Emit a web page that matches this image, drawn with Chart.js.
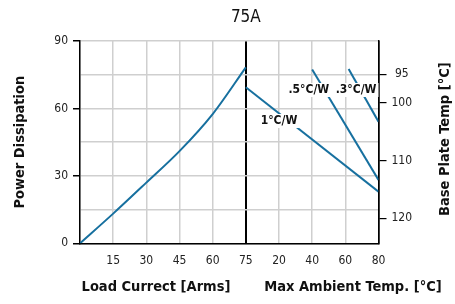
<html>
<head></head>
<body style="margin:0">
<script src="https://cdn.jsdelivr.net/npm/chart.js@4.4.1/dist/chart.umd.min.js"></script>
<div style="width:455px;height:304px"><canvas id="myChart" width="455" height="304"></canvas></div>
<script>
// left panel: power vs load current
const current = [0, 15, 30, 45, 60, 75];
const power = [0, 13.2, 27, 41, 57.5, 78.3];
// right panel: derating lines vs ambient temp
const ambient1 = [0, 80];
const power1 = [69.4, 23];
const ambient05 = [40, 80];
const power05 = [77.3, 28.2];
const ambient03 = [62, 80];
const power03 = [77.5, 54.1];
const lineLabels = ['1°C/W', '.5°C/W', '.3°C/W'];
const labelAt = [[20, 54.4], [38, 68.2], [66.5, 68.2]]; // ambient, power
const plateTicks = [95, 100, 110, 120];

const FONT = "'Liberation Sans Narrow', 'DejaVu Sans Condensed', sans-serif";
const BLUE = '#17709f';
// the right panel starts where the 75A gridline is, 20 degC per 15A division
const amb = t => 75 + t * 0.75;
const pts = (xs, ys, f) => xs.map((v, i) => ({x: f(v), y: ys[i]}));

const texts = {
  id: 'texts',
  afterDatasetsDraw(chart) {
    const c = chart.ctx, a = chart.chartArea, sx = chart.scales.x, sy = chart.scales.y;
    c.save();
    c.fillStyle = '#111';
    c.textAlign = 'center';
    c.textBaseline = 'middle';
    c.font = 'bold 12px ' + FONT;
    lineLabels.forEach((t, i) => {
      const x = sx.getPixelForValue(amb(labelAt[i][0]));
      const y = sy.getPixelForValue(labelAt[i][1]);
      const w = c.measureText(t).width;
      c.fillStyle = '#fff';
      c.fillRect(x - w / 2 - 2, y - 7, w + 4, 14);
      c.fillStyle = '#111';
      c.fillText(t, x, y);
    });
    c.font = '17px ' + FONT;
    c.fillText('75A', sx.getPixelForValue(75), 18);
    c.font = 'bold 14.5px ' + FONT;
    c.fillText('Load Currect [Arms]', 156, 287);
    c.fillText('Max Ambient Temp. [°C]', 353, 287);
    c.translate(20, (a.top + a.bottom) / 2);
    c.rotate(-Math.PI / 2);
    c.fillText('Power Dissipation', 0, 0);
    c.restore();
    c.save();
    c.fillStyle = '#111';
    c.textAlign = 'center';
    c.textBaseline = 'middle';
    c.font = 'bold 14.5px ' + FONT;
    c.translate(445, (a.top + a.bottom) / 2 - 3);
    c.rotate(-Math.PI / 2);
    c.fillText('Base Plate Temp [°C]', 0, 0);
    c.restore();
  }
};

const ctx = document.getElementById('myChart').getContext('2d');
const myChart = new Chart(ctx, {
  type: 'line',
  data: {
    datasets: [
      {data: pts(current, power, v => v), cubicInterpolationMode: 'monotone'},
      {data: pts(ambient1, power1, amb)},
      {data: pts(ambient05, power05, amb)},
      {data: pts(ambient03, power03, amb)}
    ].map(d => Object.assign({borderColor: BLUE, borderWidth: 2, pointRadius: 0, fill: false}, d))
  },
  options: {
    responsive: false,
    animation: false,
    layout: {padding: {top: 41}},
    plugins: {legend: {display: false}, tooltip: {enabled: false}},
    scales: {
      x: {
        type: 'linear', min: 0, max: 135,
        afterFit: s => { s.height = 60.7; },
        afterBuildTicks: s => { s.ticks = [0, 15, 30, 45, 60, 75, 90, 105, 120, 135].map(v => ({value: v})); },
        ticks: {
          padding: 10, color: '#222', font: {family: FONT, size: 12},
          callback: v => v == 0 ? '' : (v <= 75 ? v : Math.round((v - 75) / 0.75))
        },
        grid: {
          drawTicks: false,
          color: c => (c.tick && (c.tick.value == 75 || c.tick.value == 135)) ? '#000' : '#cfcfcf',
          lineWidth: c => (c.tick && c.tick.value == 75) ? 2 : 1.5
        },
        border: {color: '#000', width: 1.5}
      },
      y: {
        min: 0, max: 90,
        afterFit: s => { s.width = 80; },
        ticks: {
          stepSize: 15, padding: 5, color: '#222', font: {family: FONT, size: 12},
          callback: v => v % 30 == 0 ? v : ''
        },
        grid: {
          color: '#cfcfcf', lineWidth: 1.5, tickLength: 7,
          tickColor: c => c.tick.value % 30 == 0 ? '#000' : 'rgba(0,0,0,0)'
        },
        border: {color: '#000', width: 1.5}
      },
      y2: {
        type: 'linear', position: 'right', reverse: true, min: 89.22, max: 124.34,
        afterFit: s => { s.width = 76.5; },
        afterBuildTicks: s => { s.ticks = plateTicks.map(v => ({value: v})); },
        ticks: {padding: 5, crossAlign: 'center', color: '#222', font: {family: FONT, size: 12}},
        grid: {drawOnChartArea: false, tickLength: 8, tickColor: '#000', lineWidth: 1.2},
        border: {color: '#000', width: 1.5}
      }
    }
  },
  plugins: [texts]
});
</script>
</body>
</html>
